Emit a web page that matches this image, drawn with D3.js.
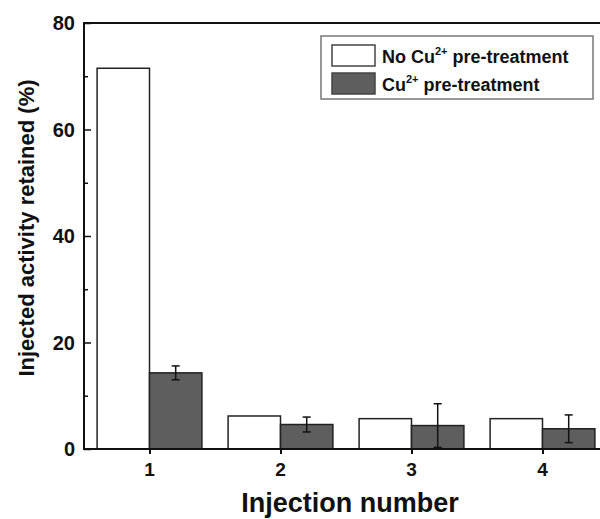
<!DOCTYPE html>
<html>
<head>
<meta charset="utf-8">
<script src="https://cdn.jsdelivr.net/npm/d3@7"></script>
<style>
  body { margin: 0; background: #fff; }
  svg { display: block; font-family: "Liberation Sans", Arial, sans-serif; font-weight: bold; }
</style>
</head>
<body>
<svg id="chart"></svg>
<script>
var categories = [1, 2, 3, 4];
var noCu = [71.5, 6.2, 5.7, 5.7];
var withCu = [14.3, 4.6, 4.4, 3.8];
var withCuErr = [1.3, 1.4, 4.1, 2.6];
var yTicks = [0, 20, 40, 60, 80];
var yMinor = [10, 30, 50, 70];

var width = 600, height = 519;
var plotLeft = 84, plotTop = 23, plotBottom = 449;

var svg = d3.select("#chart")
    .attr("width", width)
    .attr("height", height);

var x = d3.scaleLinear().domain([0.5, 4.5]).range([plotLeft, plotLeft + 4 * 131]);
var y = d3.scaleLinear().domain([0, 80]).range([plotBottom, plotTop]);
var plotRight = x(4.5);
var barW = x(0.4) - x(0);

// white bars
svg.selectAll(".noCu")
    .data(categories)
    .enter().append("rect")
    .attr("x", function(d) { return x(d) - barW; })
    .attr("y", function(d, i) { return y(noCu[i]); })
    .attr("width", barW)
    .attr("height", function(d, i) { return y(0) - y(noCu[i]); })
    .attr("fill", "#fff")
    .attr("stroke", "#222")
    .attr("stroke-width", 1.5);

// dark bars
svg.selectAll(".withCu")
    .data(categories)
    .enter().append("rect")
    .attr("x", function(d) { return x(d); })
    .attr("y", function(d, i) { return y(withCu[i]); })
    .attr("width", barW)
    .attr("height", function(d, i) { return y(0) - y(withCu[i]); })
    .attr("fill", "#5e5e5e")
    .attr("stroke", "#222")
    .attr("stroke-width", 1.5);

// error bars
var err = svg.append("g").attr("stroke", "#111").attr("stroke-width", 1.5);
categories.forEach(function(d, i) {
    var cx = x(d) + barW / 2;
    var hi = y(withCu[i] + withCuErr[i]), lo = y(Math.max(0, withCu[i] - withCuErr[i]));
    err.append("line").attr("x1", cx).attr("x2", cx).attr("y1", hi).attr("y2", lo);
    err.append("line").attr("x1", cx - 4).attr("x2", cx + 4).attr("y1", hi).attr("y2", hi);
    err.append("line").attr("x1", cx - 4).attr("x2", cx + 4).attr("y1", lo).attr("y2", lo);
});

// frame
svg.append("rect")
    .attr("x", plotLeft).attr("y", plotTop)
    .attr("width", plotRight - plotLeft).attr("height", plotBottom - plotTop)
    .attr("fill", "none").attr("stroke", "#111").attr("stroke-width", 2);

// left axis ticks (inward)
svg.append("g").attr("transform", "translate(" + plotLeft + ",0)")
    .call(d3.axisRight(y).tickValues(yTicks).tickSize(7).tickFormat(""))
    .call(function(g) { g.select(".domain").remove(); })
    .selectAll("line").attr("stroke", "#111").attr("stroke-width", 1.5);
svg.append("g").attr("transform", "translate(" + plotLeft + ",0)")
    .call(d3.axisRight(y).tickValues(yMinor).tickSize(4).tickFormat(""))
    .call(function(g) { g.select(".domain").remove(); })
    .selectAll("line").attr("stroke", "#111").attr("stroke-width", 1.5);
// right axis mirrored ticks
svg.append("g").attr("transform", "translate(" + plotRight + ",0)")
    .call(d3.axisLeft(y).tickValues(yTicks).tickSize(7).tickFormat(""))
    .call(function(g) { g.select(".domain").remove(); })
    .selectAll("line").attr("stroke", "#999").attr("stroke-width", 1);

// y tick labels
svg.selectAll(".ylab")
    .data(yTicks)
    .enter().append("text")
    .attr("x", plotLeft - 9)
    .attr("y", function(d) { return y(d) + 7; })
    .attr("text-anchor", "end")
    .style("font-size", "20px")
    .attr("fill", "#111")
    .text(function(d) { return d; });

// x ticks and labels
svg.append("g").attr("transform", "translate(0," + plotBottom + ")")
    .call(d3.axisBottom(x).tickValues(categories).tickSize(5).tickFormat(""))
    .call(function(g) { g.select(".domain").remove(); })
    .selectAll("line").attr("stroke", "#111").attr("stroke-width", 2);
svg.selectAll(".xlab")
    .data(categories)
    .enter().append("text")
    .attr("x", function(d) { return x(d); })
    .attr("y", 476)
    .attr("text-anchor", "middle")
    .style("font-size", "19px")
    .attr("fill", "#111")
    .text(function(d) { return d; });

// axis titles
svg.append("text")
    .attr("x", 350)
    .attr("y", 512)
    .attr("text-anchor", "middle")
    .style("font-size", "27px")
    .attr("fill", "#111")
    .text("Injection number");

svg.append("text")
    .attr("transform", "translate(34,228) rotate(-90)")
    .attr("text-anchor", "middle")
    .style("font-size", "22px")
    .attr("fill", "#111")
    .text("Injected activity retained (%)");

// legend
var legend = svg.append("g");
legend.append("rect")
    .attr("x", 321).attr("y", 36).attr("width", 272).attr("height", 63)
    .attr("fill", "#fff").attr("stroke", "#777").attr("stroke-width", 1.5);
var legendItems = [
    { pre: "No Cu", post: " pre-treatment", fill: "#fff" },
    { pre: "Cu", post: " pre-treatment", fill: "#5e5e5e" }
];
legendItems.forEach(function(d, i) {
    var yy = 45 + i * 28;
    legend.append("rect")
        .attr("x", 332).attr("y", yy).attr("width", 43).attr("height", 21)
        .attr("fill", d.fill).attr("stroke", "#444").attr("stroke-width", 1.5);
    var t = legend.append("text")
        .attr("x", 382).attr("y", yy + 18)
        .style("font-size", "18px")
        .attr("fill", "#111");
    t.append("tspan").text(d.pre);
    t.append("tspan").attr("dy", -8).style("font-size", "11px").text("2+");
    t.append("tspan").attr("dy", 8).text(d.post);
});
</script>
</body>
</html>
